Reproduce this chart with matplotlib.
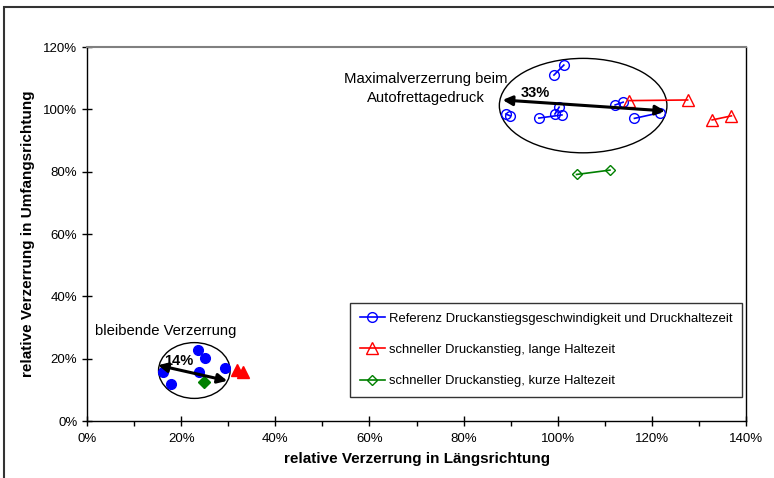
import matplotlib
matplotlib.use("Agg")
import matplotlib.pyplot as plt
from matplotlib.patches import Ellipse, Rectangle
from matplotlib.ticker import MultipleLocator, FuncFormatter

plt.rcParams['font.family'] = ['Liberation Sans', 'DejaVu Sans']

# Maximal strain at autofrettage pressure (pairs connected by lines), in %
ref_pairs_x = [[99.2, 101.3], [89.0, 89.9], [96.0, 100.9], [99.4, 100.3], [112.2, 113.9], [116.3, 121.7]]
ref_pairs_y = [[111.0, 114.2], [98.5, 97.9], [97.2, 98.2], [98.5, 100.7], [101.4, 102.3], [97.1, 98.9]]
fast_long_x = [[115.2, 127.6], [132.8, 136.9]]
fast_long_y = [[102.8, 103.0], [96.6, 97.9]]
fast_short_x = [[104.0, 111.1]]
fast_short_y = [[79.1, 80.5]]

# Residual strain (filled markers)
res_ref_x = [23.6, 25.1, 16.2, 23.8, 29.4, 17.8]
res_ref_y = [22.8, 20.1, 15.6, 15.8, 16.9, 11.8]
res_long_x = [31.9, 33.1]
res_long_y = [16.4, 15.8]
res_short_x = [24.9]
res_short_y = [12.4]

legend_labels = ["Referenz Druckanstiegsgeschwindigkeit und Druckhaltezeit",
                 "schneller Druckanstieg, lange Haltezeit",
                 "schneller Druckanstieg, kurze Haltezeit"]

fig = plt.figure(figsize=(7.74, 4.78), dpi=100)
ax = fig.add_axes([87/774, 1 - 421/478, (746 - 87)/774, (421 - 47)/478])

# outer chart frame
fig.patches.append(Rectangle((4/774, -0.01), 1.2, 1 - 7/478 + 0.01, transform=fig.transFigure,
                             fill=False, edgecolor='#333333', linewidth=1.5))

blue = '#0000ff'
red = '#ff0000'
green = '#008000'

for i, (xs, ys) in enumerate(zip(ref_pairs_x, ref_pairs_y)):
    ax.plot(xs, ys, color=blue, marker='o', mfc='none', mec=blue, ms=7, lw=1.2,
            label=legend_labels[0] if i == 0 else None)
for i, (xs, ys) in enumerate(zip(fast_long_x, fast_long_y)):
    ax.plot(xs, ys, color=red, marker='^', mfc='none', mec=red, ms=8, lw=1.2,
            label=legend_labels[1] if i == 0 else None)
for i, (xs, ys) in enumerate(zip(fast_short_x, fast_short_y)):
    ax.plot(xs, ys, color=green, marker='D', mfc='none', mec=green, ms=5.5, lw=1.2,
            label=legend_labels[2] if i == 0 else None)

ax.plot(res_ref_x, res_ref_y, ls='none', marker='o', color=blue, ms=7)
ax.plot(res_long_x, res_long_y, ls='none', marker='^', color=red, ms=8)
ax.plot(res_short_x, res_short_y, ls='none', marker='D', color=green, ms=6)

# ellipses
ax.add_patch(Ellipse((105.4, 101.2), 35.6, 30.3, fill=False, edgecolor='black', lw=1))
ax.add_patch(Ellipse((22.8, 16.2), 15.2, 17.9, fill=False, edgecolor='black', lw=1))

# arrows
ax.annotate('', xy=(88.3, 103.0), xytext=(122.8, 99.5),
            arrowprops=dict(arrowstyle='<|-|>', color='black', lw=2.2, mutation_scale=14,
                            shrinkA=0, shrinkB=0))
ax.annotate('', xy=(15.1, 17.9), xytext=(29.8, 12.9),
            arrowprops=dict(arrowstyle='<|-|>', color='black', lw=2.2, mutation_scale=14,
                            shrinkA=0, shrinkB=0))

ax.text(95.2, 105.3, '33%', fontsize=10.5, fontweight='bold', ha='center', va='center')
ax.text(19.4, 19.2, '14%', fontsize=10.5, fontweight='bold', ha='center', va='center')
ax.text(72.0, 106.8, 'Maximalverzerrung beim\nAutofrettagedruck', fontsize=10.7,
        ha='center', va='center', linespacing=1.45)
ax.text(16.8, 28.9, 'bleibende Verzerrung', fontsize=10.7, ha='center', va='center')

ax.set_xlim(0, 140)
ax.set_ylim(0, 120)
ax.xaxis.set_major_locator(MultipleLocator(20))
ax.xaxis.set_minor_locator(MultipleLocator(10))
ax.yaxis.set_major_locator(MultipleLocator(20))
ax.yaxis.set_minor_locator(MultipleLocator(10))
pct = FuncFormatter(lambda v, p: f'{v:.0f}%')
ax.xaxis.set_major_formatter(pct)
ax.yaxis.set_major_formatter(pct)
ax.tick_params(which='major', direction='inout', length=7, width=1, labelsize=9.5, colors='black')
ax.tick_params(which='minor', direction='out', length=3.5, width=1)
ax.tick_params(axis='x', which='major', pad=5)
ax.tick_params(axis='y', which='minor', length=0)

for s in ['left', 'bottom', 'right']:
    ax.spines[s].set_color('black')
    ax.spines[s].set_linewidth(1)
ax.spines['top'].set_color('#808080')
ax.spines['top'].set_linewidth(1.5)

ax.set_xlabel('relative Verzerrung in Längsrichtung', fontsize=11, fontweight='bold', labelpad=5)
ax.set_ylabel('relative Verzerrung in Umfangsrichtung', fontsize=11, fontweight='bold', labelpad=6)

leg = ax.legend(loc='upper left', bbox_to_anchor=((350 - 87)/659, (421 - 303)/374), fontsize=9.4,
                frameon=True, fancybox=False, edgecolor='black', handlelength=1.9,
                labelspacing=1.45, borderpad=0.75, handletextpad=0.3, borderaxespad=0)
leg.get_frame().set_linewidth(1)

fig.savefig('out.png', dpi=100)
